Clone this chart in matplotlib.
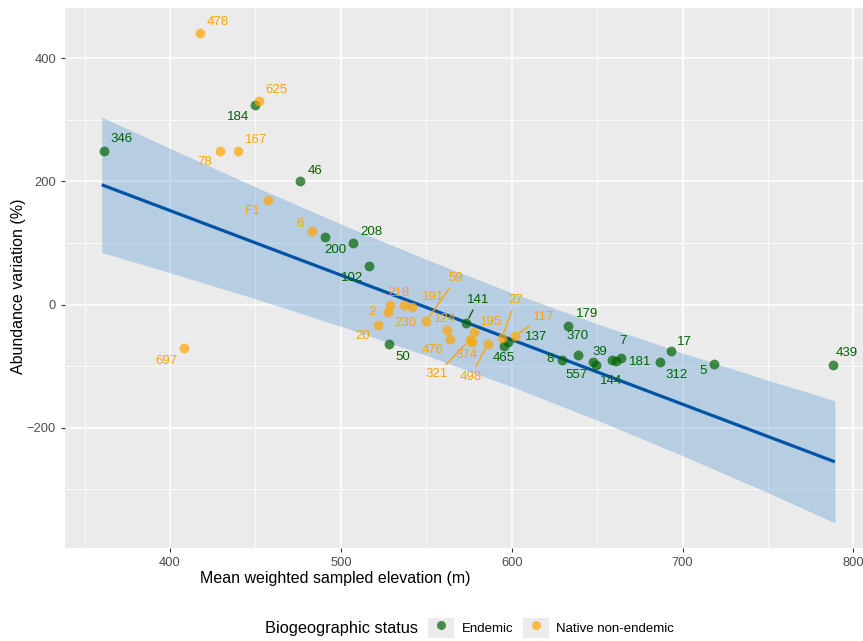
import numpy as np
import matplotlib
matplotlib.use("Agg")
import matplotlib.pyplot as plt
from matplotlib.patches import Patch
from matplotlib.lines import Line2D
from matplotlib.legend_handler import HandlerTuple

plt.rcParams['font.family'] = ['Liberation Sans', 'DejaVu Sans']

# ---------------- data ----------------
endemic_ids = ["346", "184", "46", "200", "208", "102", "141", "50", "465", "137",
               "179", "370", "8", "39", "557", "144", "7", "181", "312", "17", "5", "439"]
endemic_x = [361.5, 449.7, 476.0, 490.7, 507.3, 516.7, 573.4, 528.0, 595.2, 597.8,
             632.9, 638.8, 629.7, 647.6, 649.2, 659.0, 663.7, 661.3, 687.1, 693.0, 718.5, 788.0]
endemic_y = [249.7, 323.8, 200.0, 109.8, 100.1, 62.1, -29.7, -63.2, -66.5, -61.1,
             -35.2, -82.2, -89.2, -93.6, -98.4, -90.3, -87.1, -91.9, -93.6, -74.6, -96.2, -98.4]

native_ids = ["478", "625", "78", "167", "F1", "6", "697", "218", "2", "230", "191",
              "20", "59", "124", "476", "195", "321", "374", "498", "27", "117"]
native_x = [417.8, 452.2, 429.1, 439.9, 457.5, 483.1, 408.2, 529.0, 527.8, 536.8, 541.5,
            521.5, 549.9, 562.0, 563.6, 578.2, 575.3, 576.5, 586.0, 594.2, 602.1]
native_y = [441.6, 330.8, 250.2, 250.2, 169.8, 118.9, -69.7, 0.0, -11.8, 0.0, -4.4,
            -33.6, -27.1, -41.7, -55.1, -43.8, -57.9, -60.0, -63.2, -54.0, -50.3]

# fitted trend and its confidence band
fit_x = [360.0, 789.2]
fit_y = [194.6, -255.1]
band_x = [360.0, 400.0, 450.0, 500.0, 550.0, 600.0, 650.0, 700.0, 750.0, 789.2]
band_lo = [84.7, 51.8, 9.5, -35.1, -82.4, -133.1, -187.5, -245.0, -305.3, -354.2]
band_hi = [304.5, 253.6, 191.1, 130.9, 73.4, 19.3, -31.1, -78.4, -122.7, -156.0]

x_ticks = [400, 500, 600, 700, 800]
y_ticks = [-200, 0, 200, 400]

# label offsets (pixels) and labels drawn with a leader segment
endemic_off = [(17, 12), (-17, -12), (15, 10), (10, -13), (18, 11), (-17, -12), (12, 23),
               (14, -13), (0, -12), (28, 5), (19, 12), (0, 19), (-12, 1), (7, 10),
               (-19, -10), (-1, -21), (2, 17), (24, -1), (16, -13), (14, 9), (-11, -7), (14, 12)]
endemic_seg = ["141"]
native_off = [(17, 11), (17, 11), (-15, -11), (18, 11), (-16, -11), (-12, 7), (-18, -13),
              (8, 12), (-16, 0), (2, -18), (21, 10), (-15, -11), (30, 43), (-2, 11),
              (-17, -11), (17, 10), (-33, -34), (-5, -13), (-17, -33), (14, 38), (28, 19)]
native_seg = ["59", "321", "498", "27", "117"]

# ---------------- style ----------------
GREEN_PT = "#006400"
ORANGE_PT = "#FFA500"
GREEN_TX = "#006400"
ORANGE_TX = "#FFA500"
PANEL = "#EBEBEB"

W, H = 863, 641
fig = plt.figure(figsize=(W / 100, H / 100), dpi=100)
ax = fig.add_axes([65 / W, (H - 548) / H, (873 - 65) / W, (548 - 8) / H])
ax.set_facecolor(PANEL)
for s in ax.spines.values():
    s.set_visible(False)

ax.fill_between(band_x, band_lo, band_hi, color="#4A8ED0", alpha=0.32, linewidth=0, zorder=2)
ax.plot(fit_x, fit_y, color="#0054A6", lw=2.3, zorder=3, solid_capstyle='butt')

ax.scatter(endemic_x, endemic_y, s=50, color=GREEN_PT, alpha=0.7, linewidths=0, zorder=4)
ax.scatter(native_x, native_y, s=50, color=ORANGE_PT, alpha=0.7, linewidths=0, zorder=4)


def labels(ids, xs_, ys_, offs, segs, col):
    for i, lab in enumerate(ids):
        dx, dy = offs[i]
        kw = {}
        if lab in segs:
            kw['arrowprops'] = dict(arrowstyle='-', color=col, lw=1.0, shrinkA=1, shrinkB=4)
        ax.annotate(lab, (xs_[i], ys_[i]), xytext=(dx, dy), textcoords='offset pixels',
                    ha='center', va='center', color=col, fontsize=9.5, zorder=5, **kw)


labels(endemic_ids, endemic_x, endemic_y, endemic_off, endemic_seg, GREEN_TX)
labels(native_ids, native_x, native_y, native_off, native_seg, ORANGE_TX)

ax.set_xlim(338.5, 811.5)
ax.set_ylim(-395, 481.5)
ax.set_xticks(x_ticks)
ax.set_yticks(y_ticks)
ax.set_xticks([350, 450, 550, 650, 750], minor=True)
ax.set_yticks([-300, -100, 100, 300], minor=True)
ax.grid(which='major', color='white', lw=1.1, zorder=0)
ax.grid(which='minor', color='white', lw=0.55, zorder=0)
ax.set_axisbelow(True)
ax.tick_params(which='major', length=3, width=0.8, color='#333333', labelcolor='#4D4D4D',
               labelsize=9.3, pad=3.5)
ax.tick_params(which='minor', length=0)

fig.text(335 / W, 1 - 579 / H, "Mean weighted sampled elevation (m)", ha='center', va='center',
         fontsize=11.5)
fig.text(18 / W, 1 - 286 / H, "Abundance variation (%)", rotation=90, ha='center', va='center',
         fontsize=11.5)

# legend
fig.text(418 / W, 1 - 628 / H, "Biogeographic status", ha='right', va='center', fontsize=11.8)
h1 = (Patch(facecolor=PANEL, edgecolor='none'),
      Line2D([], [], marker='o', ls='', color=GREEN_PT, alpha=0.7, markersize=6.5, mec='none'))
h2 = (Patch(facecolor=PANEL, edgecolor='none'),
      Line2D([], [], marker='o', ls='', color=ORANGE_PT, alpha=0.7, markersize=6.5, mec='none'))
fig.legend([h1, h2], ["Endemic", "Native non-endemic"], ncol=2, frameon=False,
           handler_map={tuple: HandlerTuple(ndivide=1)}, fontsize=9.5,
           handlelength=2.0, handleheight=2.0, handletextpad=0.55, columnspacing=0.7,
           borderpad=0, borderaxespad=0, loc='center left',
           bbox_to_anchor=(428 / W, 1 - 628 / H))

fig.savefig("out.png", dpi=100)
